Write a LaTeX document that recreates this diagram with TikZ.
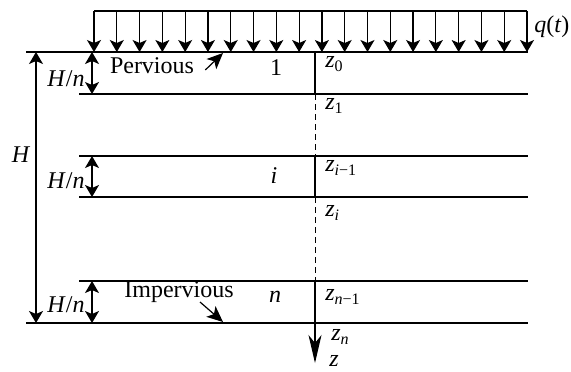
\documentclass[tikz,border=0pt]{standalone}
\usepackage{fontspec}
\setmainfont{Liberation Serif}
\usetikzlibrary{arrows.meta}
\newcommand{\vz}[1]{\textit{z}\textsubscript{#1}}
\newcommand{\Hn}{\textit{H}/\textit{n}}

\begin{document}
\begin{tikzpicture}[x=0.5pt,y=-0.5pt,>={Stealth[length=6pt,width=7pt,inset=1.5pt]},line width=0.6pt,font=\fontsize{12}{14}\selectfont]
  \useasboundingbox (0,0) rectangle (571,371);
  % load q(t)
  \coordinate (QL) at (94,11);
  \coordinate (QR) at (527,11);
  \draw (QL)--(QR) node[right,yshift=-8pt]{\textit{q}(\textit{t})};
  \foreach \k in {0,...,19}
    \draw[->] (94+\k*22.79,11)--(94+\k*22.79,52);
  % layer boundaries
  \coordinate (S0) at (26,52);   \coordinate (E0) at (528,52);
  \coordinate (S1) at (79,94);   \coordinate (E1) at (528,94);
  \coordinate (S2) at (79,156);  \coordinate (E2) at (528,156);
  \coordinate (S3) at (79,197);  \coordinate (E3) at (528,197);
  \coordinate (S4) at (79,281);  \coordinate (E4) at (528,281);
  \coordinate (S5) at (26,323);  \coordinate (E5) at (528,323);
  \foreach \j in {0,...,5}
    \draw (S\j)--(E\j);
  % depth axis
  \coordinate (A0) at (315,52);  \coordinate (A1) at (315,94);
  \coordinate (A2) at (315,156); \coordinate (A3) at (315,197);
  \coordinate (A4) at (315,281); \coordinate (A5) at (315,323);
  \coordinate (A6) at (315,363);
  \draw (A0)--(A1) (A2)--(A3) (A4)--(A5);
  \draw[densely dashed,line width=0.4pt] (A1)--(A2) (A3)--(A4);
  \draw[-{Stealth[length=14pt,width=6.5pt,inset=4pt]}] (A5)--(A6);
  \node[right] at (318,64) {\vz{0}};
  \node[right] at (318,106) {\vz{1}};
  \node[right] at (318,168) {\vz{\textit{i}−1}};
  \node[right] at (318,213) {\vz{\textit{i}}};
  \node[right] at (318,297) {\vz{\textit{n}−1}};
  \node[right] at (324,337) {\vz{\textit{n}}};
  \node[right] at (322,361) {\textit{z}};
  % layer numbers
  \node at (276,68) {1};
  \node at (274,176) {\textit{i}};
  \node at (275,297) {\textit{n}};
  % dimensions
  \coordinate (D0) at (36,52);
  \coordinate (D1) at (36,323);
  \draw[<->] (D0)--(D1);
  \node at (21,155) {\textit{H}};
  \coordinate (B0) at (92,52);  \coordinate (B1) at (92,94);
  \coordinate (B2) at (92,156); \coordinate (B3) at (92,197);
  \coordinate (B4) at (92,281); \coordinate (B5) at (92,323);
  \draw[<->] (B0)--(B1);
  \draw[<->] (B2)--(B3);
  \draw[<->] (B4)--(B5);
  \node at (66,79) {\Hn};
  \node at (66,181) {\Hn};
  \node at (66,305) {\Hn};
  % boundary conditions
  \node (per) at (152,66) {Pervious};
  \coordinate (P1) at (223,53);
  \draw[-{Stealth[length=8pt,width=7pt,inset=2pt]}] (per.east) ++(4,4)--(P1);
  \node (imp) at (179,292) {Impervious};
  \coordinate (I1) at (223,322);
  \draw[-{Stealth[length=8pt,width=7pt,inset=2pt]}] (200,302)--(I1);
\end{tikzpicture}
\end{document}
